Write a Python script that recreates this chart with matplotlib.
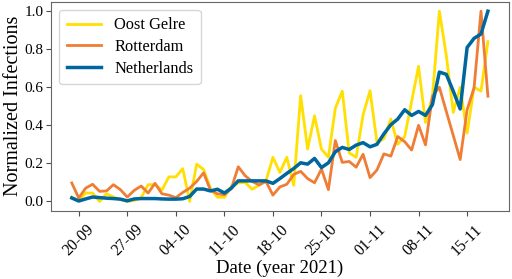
import numpy as np
import pandas as pd
import matplotlib
matplotlib.use('Agg')
import matplotlib.pyplot as plt
import matplotlib.dates as mdates

plt.rcParams['font.family'] = ['Liberation Serif', 'DejaVu Serif']

# Daily dates shown on the x-axis
dates = pd.date_range('2021-09-19', '2021-11-18', freq='D')

oost_gelre = [0.023, 0.005, 0.044, 0.044, 0.0, 0.04, 0.023, 0.01, 0.0, 0.005,
              0.02, 0.088, 0.088, 0.06, 0.129, 0.129, 0.172, 0.0, 0.196, 0.168,
              0.067, 0.022, 0.022, 0.08, 0.097, 0.1, 0.064, 0.085, 0.108, 0.232,
              0.152, 0.232, 0.085, 0.556, 0.275, 0.45, 0.275, 0.232, 0.49, 0.58,
              0.255, 0.232, 0.455, 0.582, 0.31, 0.33, 0.433, 0.3, 0.341, 0.526,
              0.71, 0.415, 0.553, 1.0, 0.768, 0.468, 0.6, 0.359, 0.6, 0.58, 0.84]

rotterdam = [0.097, 0.018, 0.07, 0.09, 0.053, 0.055, 0.088, 0.062, 0.023, 0.058,
             0.081, 0.044, 0.095, 0.04, 0.033, 0.02, 0.047, 0.07, 0.105, 0.15,
             0.059, 0.04, 0.035, 0.067, 0.182, 0.135, 0.105, 0.087, 0.105, 0.033,
             0.076, 0.09, 0.142, 0.158, 0.12, 0.098, 0.17, 0.062, 0.32, 0.205,
             0.21, 0.18, 0.248, 0.125, 0.165, 0.25, 0.238, 0.341, 0.314, 0.27,
             0.4, 0.297, 0.553, 0.6, 0.473, 0.347, 0.22, 0.482, 0.597, 1.0, 0.553]

netherlands = [0.018, 0.002, 0.013, 0.023, 0.02, 0.017, 0.015, 0.012, 0.003, 0.013,
               0.015, 0.015, 0.015, 0.013, 0.012, 0.012, 0.014, 0.026, 0.065, 0.065,
               0.055, 0.064, 0.044, 0.07, 0.108, 0.108, 0.108, 0.108, 0.108, 0.095,
               0.12, 0.147, 0.173, 0.203, 0.196, 0.226, 0.178, 0.203, 0.261, 0.284,
               0.273, 0.296, 0.309, 0.287, 0.3, 0.355, 0.403, 0.433, 0.482, 0.452,
               0.473, 0.452, 0.509, 0.68, 0.668, 0.58, 0.486, 0.809, 0.857, 0.88, 1.0]

fig = plt.figure(figsize=(5.12, 2.79), dpi=100)
ax = fig.add_axes([0.0996, 0.244, 0.894, 0.75])

ax.plot(dates, oost_gelre, color='#FFE000', linewidth=2.0, label='Oost Gelre')
ax.plot(dates, rotterdam, color='#F07D35', linewidth=2.0, label='Rotterdam')
ax.plot(dates, netherlands, color='#00679E', linewidth=2.5, label='Netherlands')

ax.xaxis.set_major_locator(mdates.WeekdayLocator(byweekday=mdates.MO))
ax.xaxis.set_major_formatter(mdates.DateFormatter('%d-%m'))
ax.set_yticks([0.0, 0.2, 0.4, 0.6, 0.8, 1.0])
ax.tick_params(axis='y', labelsize=11, color='0.3', pad=2)
ax.tick_params(axis='x', labelsize=11.3, color='0.3', pad=4)
for lbl in ax.get_xticklabels():
    lbl.set_rotation(45)
    lbl.set_ha('center')

for sp in ax.spines.values():
    sp.set_color('0.4')

ax.set_xlabel('Date (year 2021)', fontsize=13.5, labelpad=0.5)
ax.set_ylabel('Normalized Infections', fontsize=14.5, labelpad=1)

ax.legend(loc='upper left', fontsize=11.8, handlelength=2.1, borderpad=0.45,
          labelspacing=0.35)

fig.savefig('out.png', dpi=100)
